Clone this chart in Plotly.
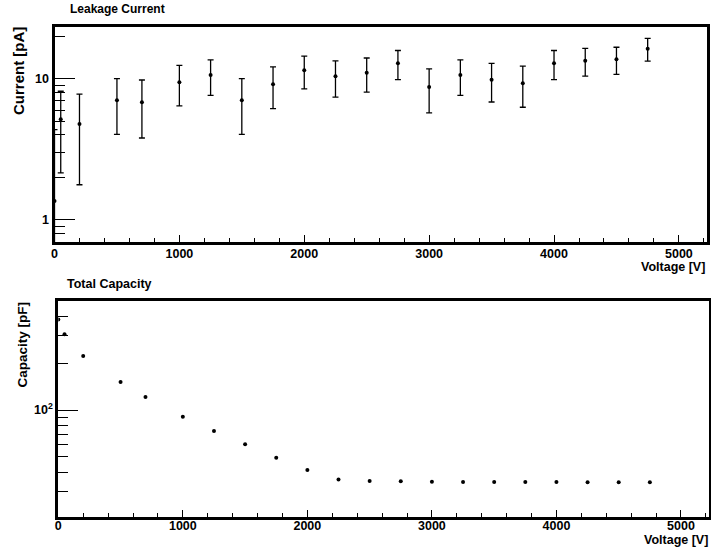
import plotly.graph_objects as go

# ---- data ----
voltage = [0, 50, 200, 500, 700, 1000, 1250, 1500, 1750, 2000, 2250,
           2500, 2750, 3000, 3250, 3500, 3750, 4000, 4250, 4500, 4750]
current = [1.36, 5.15, 4.77, 7.03, 6.80, 9.43, 10.63, 7.03, 9.13, 11.47, 10.40,
           11.03, 12.86, 8.73, 10.63, 9.84, 9.28, 12.86, 13.42, 13.73, 16.33]
current_err = [3.0, 3.0, 3.0, 3.0, 3.0, 3.0, 3.0, 3.0, 3.0, 3.0, 3.0,
               3.0, 3.0, 3.0, 3.0, 3.0, 3.0, 3.0, 3.0, 3.0, 3.0]
capacity = [381, 306, 222, 151, 121, 90.6, 73.4, 60.3, 49.5, 41.2, 35.9,
            35.0, 34.9, 34.7, 34.6, 34.5, 34.5, 34.5, 34.4, 34.4, 34.4]

x_ticks = [0, 1000, 2000, 3000, 4000, 5000]
cur_ticks = [1, 10]
cur_ticktext = ["1", "10"]
cur_minor = [0.7, 0.8, 0.9, 2, 3, 4, 5, 6, 7, 8, 9, 20]
cap_ticks = [100]
cap_ticktext = ["10<sup>2</sup>"]
cap_minor = [30, 40, 50, 60, 70, 80, 90, 200, 300, 400]

W, H = 711, 548
FONT = "Liberation Sans, Arial, Helvetica, sans-serif"

fig = go.Figure()
fig.add_trace(go.Scatter(
    x=voltage, y=current, mode="markers", xaxis="x", yaxis="y",
    marker=dict(color="black", size=4),
    error_y=dict(type="data", array=current_err, color="black", thickness=1.3, width=3),
    showlegend=False))
fig.add_trace(go.Scatter(
    x=voltage, y=capacity, mode="markers", xaxis="x2", yaxis="y2",
    marker=dict(color="black", size=4), showlegend=False))

def xax(domain, anchor, standoff):
    return dict(domain=domain, anchor=anchor, range=[0, 5225], showline=True,
                linewidth=3, linecolor="black", mirror=True, ticks="inside",
                ticklen=7, tickwidth=1, tickcolor="black", tickvals=x_ticks,
                ticklabelstandoff=standoff,
                minor=dict(ticks="inside", ticklen=4, dtick=200, tick0=0,
                           tickcolor="black", tickwidth=1, showgrid=False),
                tickfont=dict(family=FONT, size=12.5, color="black", weight="bold"),
                showgrid=False, zeroline=False, automargin=False)

def yax(domain, anchor, rng, tv, tt, minor):
    return dict(domain=domain, anchor=anchor, type="log", range=rng, showline=True,
                linewidth=3, linecolor="black", mirror=True, ticks="inside",
                ticklen=20, tickwidth=1, tickcolor="black", tickvals=tv, ticktext=tt,
                minor=dict(ticks="inside", ticklen=10, tickvals=minor,
                           tickcolor="black", tickwidth=1, showgrid=False),
                tickfont=dict(family=FONT, size=12.5, color="black", weight="bold"),
                showgrid=False, zeroline=False, automargin=False)

fig.update_layout(
    width=W, height=H, margin=dict(l=0, r=0, t=0, b=0),
    paper_bgcolor="white", plot_bgcolor="white",
    xaxis=xax([54.5 / W, 707 / W], "y", -2),
    yaxis=yax([1 - 242 / H, 1 - 27 / H], "x", [-0.158, 1.367],
              cur_ticks, cur_ticktext, cur_minor),
    xaxis2=xax([58.3 / W, 709 / W], "y2", -5),
    yaxis2=yax([1 - 517.3 / H, 1 - 301 / H], "x2", [1.312, 2.699],
               cap_ticks, cap_ticktext, cap_minor),
)

def ann(text, x, y, size, xanchor="left", angle=0):
    fig.add_annotation(text=text, x=x / W, y=1 - y / H, xref="paper", yref="paper",
                       xanchor=xanchor, yanchor="middle", showarrow=False,
                       textangle=angle,
                       font=dict(family=FONT, size=size, color="black", weight="bold"))

ann("Leakage Current", 68, 9.5, 12)
ann("Total Capacity", 65, 283.5, 12.5)
ann("Current [pA]", 19, 71, 15, xanchor="center", angle=-90)
ann("Capacity [pF]", 21.5, 345, 13.5, xanchor="center", angle=-90)
ann("Voltage [V]", 707, 267.5, 12.5, xanchor="right")
ann("Voltage [V]", 710, 539.5, 12.5, xanchor="right")

fig.write_html("out.html")
